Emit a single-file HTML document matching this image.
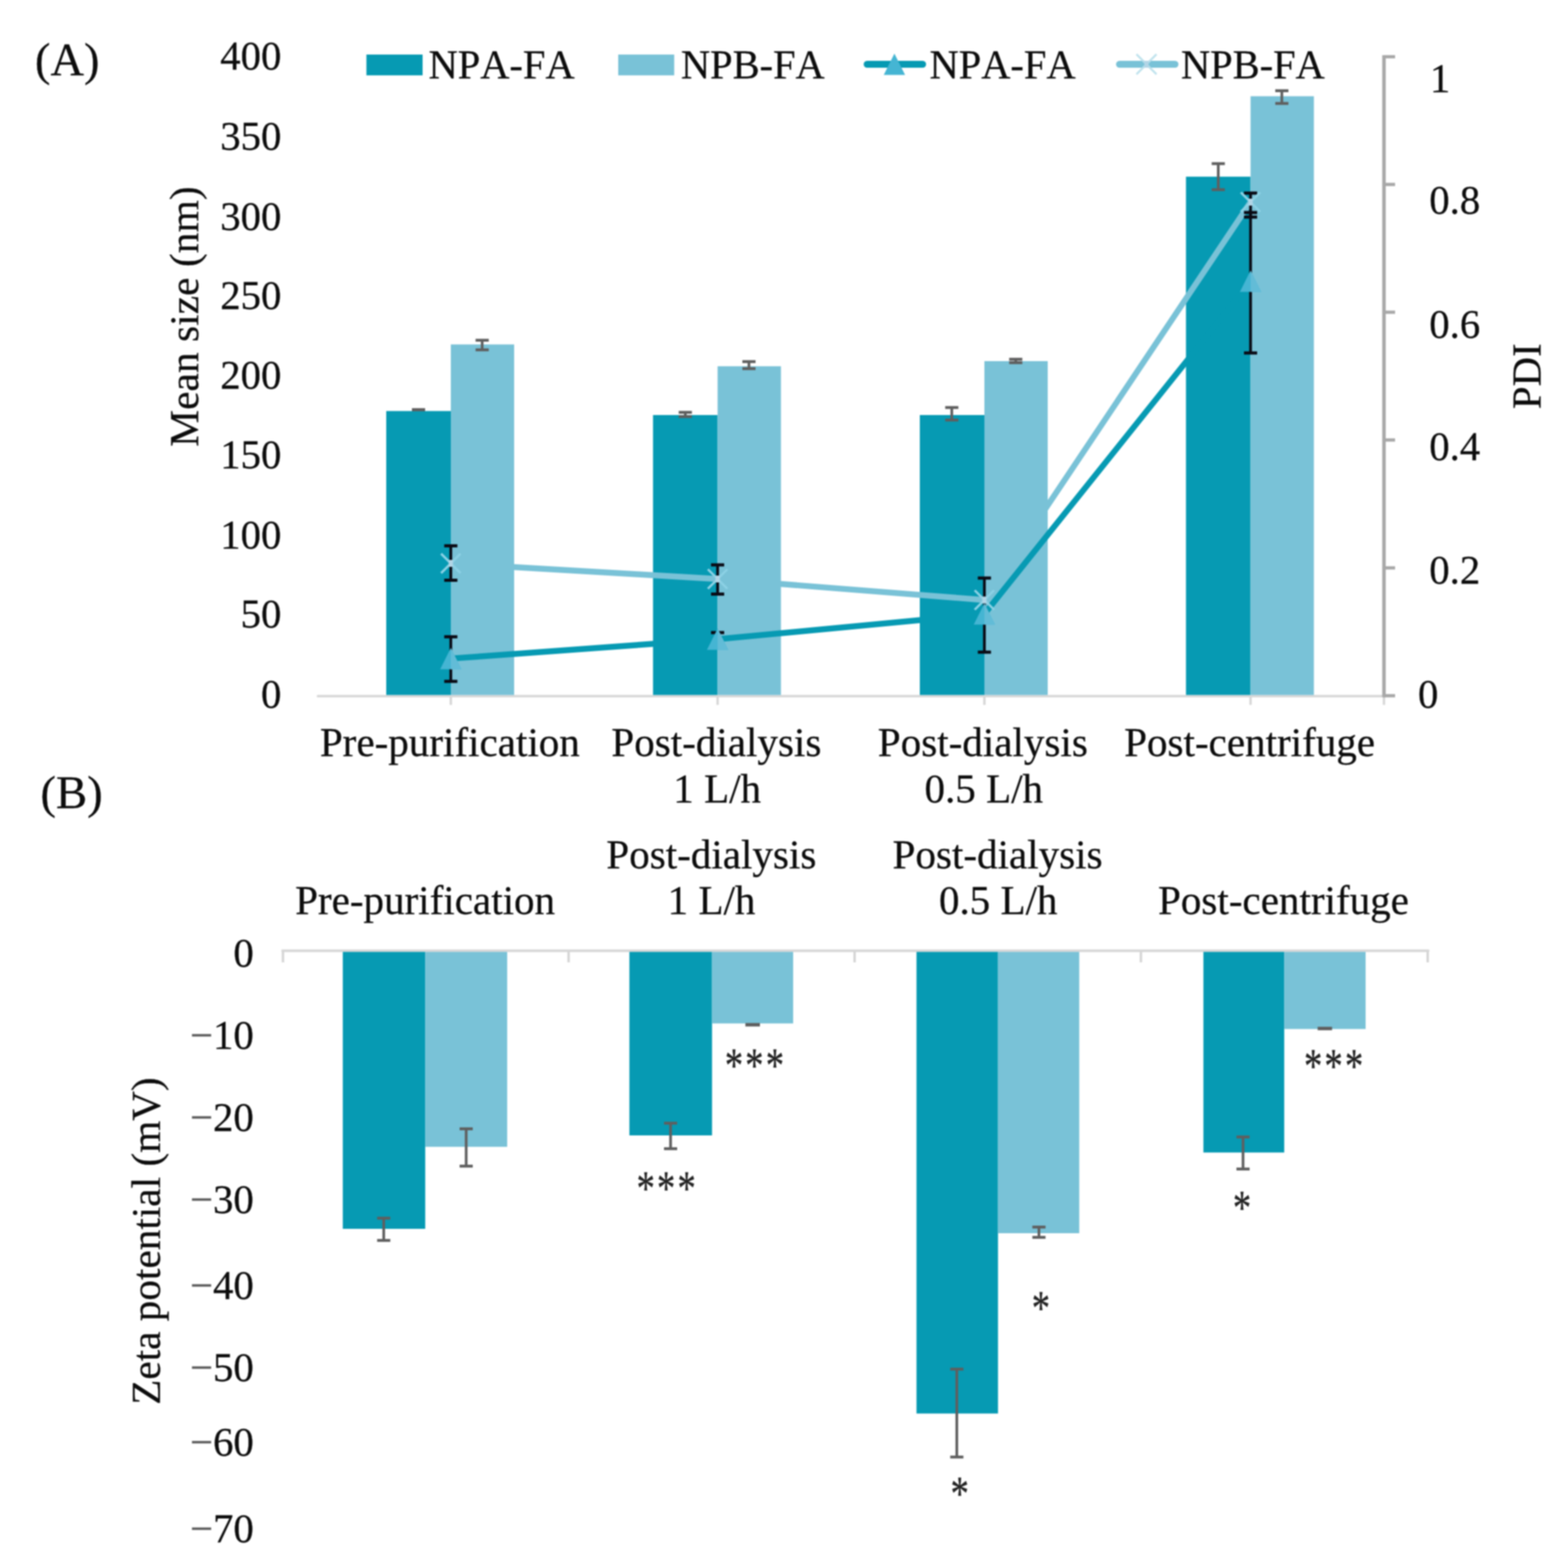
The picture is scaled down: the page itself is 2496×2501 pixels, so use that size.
<!DOCTYPE html>
<html lang="en">
<head>
<meta charset="utf-8">
<title>Figure: mean size, PDI and zeta potential of NPA-FA and NPB-FA</title>
<style>
html, body { margin: 0; padding: 0; background: #ffffff; }
body { width: 2496px; height: 2501px; overflow: hidden; }
svg { display: block; font-family: "Liberation Serif", "DejaVu Serif", serif; }
svg text { stroke-width: 0.4px; paint-order: stroke fill; font-kerning: none; font-variant-ligatures: none; font-feature-settings: "kern" 0, "liga" 0; }
</style>
</head>
<body>
<svg width="2496" height="2501" viewBox="0 0 2496 2501" role="img" aria-label="(A) Mean size and PDI, (B) zeta potential of NPA-FA and NPB-FA before and after purification">
<defs>
<filter id="soft" x="0" y="0" width="2496" height="2501" filterUnits="userSpaceOnUse" color-interpolation-filters="sRGB">
<feGaussianBlur stdDeviation="1.0"/>
</filter>
</defs>
<rect width="2496" height="2501" fill="#ffffff"/>
<g filter="url(#soft)">
<rect x="-20" y="-20" width="2536" height="2541" fill="#ffffff"/>
<line x1="505.5" y1="1110.3" x2="2207.0" y2="1110.3" stroke="#d6d6d6" stroke-width="3.8" stroke-linecap="butt"/>
<line x1="719.0" y1="1110.0" x2="719.0" y2="1124.3" stroke="#d6d6d6" stroke-width="3.8" stroke-linecap="butt"/>
<line x1="1144.5" y1="1110.0" x2="1144.5" y2="1124.3" stroke="#d6d6d6" stroke-width="3.8" stroke-linecap="butt"/>
<line x1="1570.0" y1="1110.0" x2="1570.0" y2="1124.3" stroke="#d6d6d6" stroke-width="3.8" stroke-linecap="butt"/>
<line x1="1994.5" y1="1110.0" x2="1994.5" y2="1124.3" stroke="#d6d6d6" stroke-width="3.8" stroke-linecap="butt"/>
<line x1="2207.3" y1="1110.0" x2="2207.3" y2="1124.3" stroke="#d6d6d6" stroke-width="3.8" stroke-linecap="butt"/>
<rect x="616.0" y="655.6" width="103.0" height="452.9" fill="#069ab3"/>
<rect x="719.0" y="549.4" width="101.0" height="559.1" fill="#79c2d7"/>
<rect x="1041.5" y="662.0" width="103.0" height="446.5" fill="#069ab3"/>
<rect x="1144.5" y="584.2" width="101.0" height="524.3" fill="#79c2d7"/>
<rect x="1467.0" y="662.0" width="103.0" height="446.5" fill="#069ab3"/>
<rect x="1570.0" y="576.0" width="101.0" height="532.5" fill="#79c2d7"/>
<rect x="1891.5" y="281.8" width="103.0" height="826.7" fill="#069ab3"/>
<rect x="1994.5" y="153.5" width="101.0" height="955.0" fill="#79c2d7"/>
<line x1="657.0" y1="653.5" x2="678.0" y2="653.5" stroke="#5f5f5f" stroke-width="4.6" stroke-linecap="butt"/>
<line x1="657.0" y1="653.5" x2="678.0" y2="653.5" stroke="#5f5f5f" stroke-width="4.6" stroke-linecap="butt"/>
<line x1="1093.0" y1="657.7" x2="1093.0" y2="664.5" stroke="#5f5f5f" stroke-width="4.3" stroke-linecap="butt"/>
<line x1="1082.5" y1="657.7" x2="1103.5" y2="657.7" stroke="#5f5f5f" stroke-width="4.6" stroke-linecap="butt"/>
<line x1="1082.5" y1="664.5" x2="1103.5" y2="664.5" stroke="#5f5f5f" stroke-width="4.6" stroke-linecap="butt"/>
<line x1="1518.0" y1="650.0" x2="1518.0" y2="670.0" stroke="#5f5f5f" stroke-width="4.3" stroke-linecap="butt"/>
<line x1="1507.5" y1="650.0" x2="1528.5" y2="650.0" stroke="#5f5f5f" stroke-width="4.6" stroke-linecap="butt"/>
<line x1="1507.5" y1="670.0" x2="1528.5" y2="670.0" stroke="#5f5f5f" stroke-width="4.6" stroke-linecap="butt"/>
<line x1="1943.0" y1="261.0" x2="1943.0" y2="302.5" stroke="#5f5f5f" stroke-width="4.3" stroke-linecap="butt"/>
<line x1="1932.5" y1="261.0" x2="1953.5" y2="261.0" stroke="#5f5f5f" stroke-width="4.6" stroke-linecap="butt"/>
<line x1="1932.5" y1="302.5" x2="1953.5" y2="302.5" stroke="#5f5f5f" stroke-width="4.6" stroke-linecap="butt"/>
<line x1="769.0" y1="542.7" x2="769.0" y2="558.0" stroke="#5f5f5f" stroke-width="4.3" stroke-linecap="butt"/>
<line x1="758.5" y1="542.7" x2="779.5" y2="542.7" stroke="#5f5f5f" stroke-width="4.6" stroke-linecap="butt"/>
<line x1="758.5" y1="558.0" x2="779.5" y2="558.0" stroke="#5f5f5f" stroke-width="4.6" stroke-linecap="butt"/>
<line x1="1194.5" y1="576.8" x2="1194.5" y2="588.0" stroke="#5f5f5f" stroke-width="4.3" stroke-linecap="butt"/>
<line x1="1184.0" y1="576.8" x2="1205.0" y2="576.8" stroke="#5f5f5f" stroke-width="4.6" stroke-linecap="butt"/>
<line x1="1184.0" y1="588.0" x2="1205.0" y2="588.0" stroke="#5f5f5f" stroke-width="4.6" stroke-linecap="butt"/>
<line x1="1620.0" y1="573.0" x2="1620.0" y2="578.5" stroke="#5f5f5f" stroke-width="4.3" stroke-linecap="butt"/>
<line x1="1609.5" y1="573.0" x2="1630.5" y2="573.0" stroke="#5f5f5f" stroke-width="4.6" stroke-linecap="butt"/>
<line x1="1609.5" y1="578.5" x2="1630.5" y2="578.5" stroke="#5f5f5f" stroke-width="4.6" stroke-linecap="butt"/>
<line x1="2044.4" y1="144.7" x2="2044.4" y2="165.0" stroke="#5f5f5f" stroke-width="4.3" stroke-linecap="butt"/>
<line x1="2033.9" y1="144.7" x2="2054.9" y2="144.7" stroke="#5f5f5f" stroke-width="4.6" stroke-linecap="butt"/>
<line x1="2033.9" y1="165.0" x2="2054.9" y2="165.0" stroke="#5f5f5f" stroke-width="4.6" stroke-linecap="butt"/>
<polyline points="719.0,1050.4 1144.5,1019.5 1570.0,979.3 1994.5,448.5" fill="none" stroke="#069ab3" stroke-width="9.4" stroke-linejoin="round"/>
<polyline points="719.0,898.6 1144.5,923.5 1570.0,957.0 1994.5,322.4" fill="none" stroke="#79c2d7" stroke-width="9.4" stroke-linejoin="round"/>
<line x1="719.0" y1="870.6" x2="719.0" y2="925.5" stroke="#0a0a14" stroke-width="4.4" stroke-linecap="butt"/>
<line x1="708.5" y1="870.6" x2="729.5" y2="870.6" stroke="#0a0a14" stroke-width="5" stroke-linecap="butt"/>
<line x1="708.5" y1="925.5" x2="729.5" y2="925.5" stroke="#0a0a14" stroke-width="5" stroke-linecap="butt"/>
<line x1="719.0" y1="1015.7" x2="719.0" y2="1086.8" stroke="#0a0a14" stroke-width="4.4" stroke-linecap="butt"/>
<line x1="708.5" y1="1015.7" x2="729.5" y2="1015.7" stroke="#0a0a14" stroke-width="5" stroke-linecap="butt"/>
<line x1="708.5" y1="1086.8" x2="729.5" y2="1086.8" stroke="#0a0a14" stroke-width="5" stroke-linecap="butt"/>
<line x1="1144.5" y1="901.0" x2="1144.5" y2="947.6" stroke="#0a0a14" stroke-width="4.4" stroke-linecap="butt"/>
<line x1="1134.0" y1="901.0" x2="1155.0" y2="901.0" stroke="#0a0a14" stroke-width="5" stroke-linecap="butt"/>
<line x1="1134.0" y1="947.6" x2="1155.0" y2="947.6" stroke="#0a0a14" stroke-width="5" stroke-linecap="butt"/>
<line x1="1144.5" y1="1009.0" x2="1144.5" y2="1033.0" stroke="#0a0a14" stroke-width="4.4" stroke-linecap="butt"/>
<line x1="1134.0" y1="1009.0" x2="1155.0" y2="1009.0" stroke="#0a0a14" stroke-width="5" stroke-linecap="butt"/>
<line x1="1134.0" y1="1033.0" x2="1155.0" y2="1033.0" stroke="#0a0a14" stroke-width="5" stroke-linecap="butt"/>
<line x1="1570.0" y1="922.0" x2="1570.0" y2="1040.2" stroke="#0a0a14" stroke-width="4.4" stroke-linecap="butt"/>
<line x1="1559.5" y1="922.0" x2="1580.5" y2="922.0" stroke="#0a0a14" stroke-width="5" stroke-linecap="butt"/>
<line x1="1559.5" y1="1040.2" x2="1580.5" y2="1040.2" stroke="#0a0a14" stroke-width="5" stroke-linecap="butt"/>
<line x1="1994.5" y1="308.0" x2="1994.5" y2="346.2" stroke="#0a0a14" stroke-width="4.4" stroke-linecap="butt"/>
<line x1="1984.0" y1="308.0" x2="2005.0" y2="308.0" stroke="#0a0a14" stroke-width="5" stroke-linecap="butt"/>
<line x1="1984.0" y1="346.2" x2="2005.0" y2="346.2" stroke="#0a0a14" stroke-width="5" stroke-linecap="butt"/>
<line x1="1994.5" y1="339.0" x2="1994.5" y2="563.0" stroke="#0a0a14" stroke-width="4.4" stroke-linecap="butt"/>
<line x1="1984.0" y1="339.0" x2="2005.0" y2="339.0" stroke="#0a0a14" stroke-width="5" stroke-linecap="butt"/>
<line x1="1984.0" y1="563.0" x2="2005.0" y2="563.0" stroke="#0a0a14" stroke-width="5" stroke-linecap="butt"/>
<polygon points="719.0,1033.4 736.0,1067.4 702.0,1067.4" fill="#45b5d3"/>
<polygon points="719.0,1033.4 736.0,1067.4 719.0,1067.4" fill="#62bcd7"/>
<polygon points="1144.5,1002.5 1161.5,1036.5 1127.5,1036.5" fill="#45b5d3"/>
<polygon points="1144.5,1002.5 1161.5,1036.5 1144.5,1036.5" fill="#62bcd7"/>
<polygon points="1570.0,962.3 1587.0,996.3 1553.0,996.3" fill="#45b5d3"/>
<polygon points="1570.0,962.3 1587.0,996.3 1570.0,996.3" fill="#62bcd7"/>
<polygon points="1994.5,431.5 2011.5,465.5 1977.5,465.5" fill="#45b5d3"/>
<polygon points="1994.5,431.5 2011.5,465.5 1994.5,465.5" fill="#62bcd7"/>
<path d="M703.5 883.1L734.5 914.1M703.5 914.1L734.5 883.1" stroke="#8cd1e5" stroke-width="3.8" stroke-opacity="1" fill="none"/>
<rect x="715.7" y="893.1" width="6.6" height="11" fill="#b2d5e6"/>
<path d="M1129.0 908.0L1160.0 939.0M1129.0 939.0L1160.0 908.0" stroke="#8cd1e5" stroke-width="3.8" stroke-opacity="1" fill="none"/>
<rect x="1141.2" y="918.0" width="6.6" height="11" fill="#b2d5e6"/>
<path d="M1554.5 941.5L1585.5 972.5M1554.5 972.5L1585.5 941.5" stroke="#8cd1e5" stroke-width="3.8" stroke-opacity="1" fill="none"/>
<rect x="1566.7" y="951.5" width="6.6" height="11" fill="#b2d5e6"/>
<path d="M1979.0 306.9L2010.0 337.9M1979.0 337.9L2010.0 306.9" stroke="#8cd1e5" stroke-width="3.8" stroke-opacity="1" fill="none"/>
<rect x="1991.2" y="316.9" width="6.6" height="11" fill="#b2d5e6"/>
<line x1="2207.3" y1="88.0" x2="2207.3" y2="1112.3" stroke="#a8a8a8" stroke-width="5.6" stroke-linecap="butt"/>
<line x1="2207.3" y1="90.5" x2="2225.0" y2="90.5" stroke="#a8a8a8" stroke-width="5.2" stroke-linecap="butt"/>
<line x1="2207.3" y1="294.2" x2="2225.0" y2="294.2" stroke="#a8a8a8" stroke-width="5.2" stroke-linecap="butt"/>
<line x1="2207.3" y1="498.0" x2="2225.0" y2="498.0" stroke="#a8a8a8" stroke-width="5.2" stroke-linecap="butt"/>
<line x1="2207.3" y1="701.8" x2="2225.0" y2="701.8" stroke="#a8a8a8" stroke-width="5.2" stroke-linecap="butt"/>
<line x1="2207.3" y1="905.8" x2="2225.0" y2="905.8" stroke="#a8a8a8" stroke-width="5.2" stroke-linecap="butt"/>
<line x1="2207.3" y1="1109.7" x2="2225.0" y2="1109.7" stroke="#a8a8a8" stroke-width="5.2" stroke-linecap="butt"/>
<rect x="584.4" y="87.0" width="89.6" height="33.2" fill="#069ab3"/>
<rect x="986.0" y="87.0" width="89.3" height="33.2" fill="#79c2d7"/>
<line x1="1383.0" y1="102.5" x2="1471.5" y2="102.5" stroke="#069ab3" stroke-width="11" stroke-linecap="round"/>
<polygon points="1426.5,85.5 1443.5,119.5 1409.5,119.5" fill="#45b5d3"/>
<line x1="1785.5" y1="102.5" x2="1874.0" y2="102.5" stroke="#79c2d7" stroke-width="11" stroke-linecap="round"/>
<path d="M1812.5 86.5L1844.5 118.5M1812.5 118.5L1844.5 86.5" stroke="#b9e0ec" stroke-width="3.2" stroke-opacity="0.9" fill="none"/>
<rect x="1825.2" y="97.0" width="6.6" height="11" fill="#b2d5e6"/>
<text x="683.5" y="124.5" font-size="64.5" text-anchor="start" fill="#0c0c0c" stroke="#0c0c0c">NPA-FA</text>
<text x="1086.0" y="124.5" font-size="64.5" text-anchor="start" fill="#0c0c0c" stroke="#0c0c0c">NPB-FA</text>
<text x="1482.5" y="124.5" font-size="64.5" text-anchor="start" fill="#0c0c0c" stroke="#0c0c0c">NPA-FA</text>
<text x="1883.5" y="124.5" font-size="64.5" text-anchor="start" fill="#0c0c0c" stroke="#0c0c0c">NPB-FA</text>
<text x="55.8" y="120.0" font-size="74" text-anchor="start" fill="#0c0c0c" stroke="#0c0c0c">(A)</text>
<text x="64.5" y="1288.5" font-size="74.5" text-anchor="start" fill="#0c0c0c" stroke="#0c0c0c">(B)</text>
<text x="448.8" y="110.5" font-size="65" text-anchor="end" fill="#0c0c0c" stroke="#0c0c0c">400</text>
<text x="448.8" y="238.5" font-size="65" text-anchor="end" fill="#0c0c0c" stroke="#0c0c0c">350</text>
<text x="448.8" y="366.7" font-size="65" text-anchor="end" fill="#0c0c0c" stroke="#0c0c0c">300</text>
<text x="448.8" y="493.0" font-size="65" text-anchor="end" fill="#0c0c0c" stroke="#0c0c0c">250</text>
<text x="448.8" y="619.7" font-size="65" text-anchor="end" fill="#0c0c0c" stroke="#0c0c0c">200</text>
<text x="448.8" y="746.5" font-size="65" text-anchor="end" fill="#0c0c0c" stroke="#0c0c0c">150</text>
<text x="448.8" y="875.4" font-size="65" text-anchor="end" fill="#0c0c0c" stroke="#0c0c0c">100</text>
<text x="448.8" y="1001.2" font-size="65" text-anchor="end" fill="#0c0c0c" stroke="#0c0c0c">50</text>
<text x="448.8" y="1128.8" font-size="65" text-anchor="end" fill="#0c0c0c" stroke="#0c0c0c">0</text>
<text transform="translate(316.0 505.0) rotate(-90)" font-size="66.2" text-anchor="middle" fill="#0c0c0c" stroke="#0c0c0c">Mean size (nm)</text>
<text x="2280.5" y="147.0" font-size="65" text-anchor="start" fill="#0c0c0c" stroke="#0c0c0c">1</text>
<text x="2279.5" y="341.0" font-size="65" text-anchor="start" fill="#0c0c0c" stroke="#0c0c0c">0.8</text>
<text x="2279.5" y="539.0" font-size="65" text-anchor="start" fill="#0c0c0c" stroke="#0c0c0c">0.6</text>
<text x="2279.5" y="733.5" font-size="65" text-anchor="start" fill="#0c0c0c" stroke="#0c0c0c">0.4</text>
<text x="2279.5" y="930.5" font-size="65" text-anchor="start" fill="#0c0c0c" stroke="#0c0c0c">0.2</text>
<text x="2261.5" y="1129.0" font-size="65" text-anchor="start" fill="#0c0c0c" stroke="#0c0c0c">0</text>
<text transform="translate(2457.0 600.0) rotate(-90)" font-size="65" text-anchor="middle" fill="#0c0c0c" stroke="#0c0c0c">PDI</text>
<text x="717.5" y="1206.0" font-size="65.5" text-anchor="middle" fill="#0c0c0c" stroke="#0c0c0c">Pre-purification</text>
<text x="1142.5" y="1206.0" font-size="65.5" text-anchor="middle" fill="#0c0c0c" stroke="#0c0c0c">Post-dialysis</text>
<text x="1143.8" y="1279.5" font-size="65.5" text-anchor="middle" fill="#0c0c0c" stroke="#0c0c0c">1 L/h</text>
<text x="1567.5" y="1206.0" font-size="65.5" text-anchor="middle" fill="#0c0c0c" stroke="#0c0c0c">Post-dialysis</text>
<text x="1569.0" y="1279.5" font-size="65.5" text-anchor="middle" fill="#0c0c0c" stroke="#0c0c0c">0.5 L/h</text>
<text x="1993.0" y="1206.0" font-size="65.5" text-anchor="middle" fill="#0c0c0c" stroke="#0c0c0c">Post-centrifuge</text>
<line x1="448.8" y1="1516.5" x2="2279.5" y2="1516.5" stroke="#d6d6d6" stroke-width="3.8" stroke-linecap="butt"/>
<line x1="451.3" y1="1516.5" x2="451.3" y2="1535.0" stroke="#d6d6d6" stroke-width="4.0" stroke-linecap="butt"/>
<line x1="906.8" y1="1516.5" x2="906.8" y2="1535.0" stroke="#d6d6d6" stroke-width="4.0" stroke-linecap="butt"/>
<line x1="1363.0" y1="1516.5" x2="1363.0" y2="1535.0" stroke="#d6d6d6" stroke-width="4.0" stroke-linecap="butt"/>
<line x1="1819.6" y1="1516.5" x2="1819.6" y2="1535.0" stroke="#d6d6d6" stroke-width="4.0" stroke-linecap="butt"/>
<line x1="2277.0" y1="1516.5" x2="2277.0" y2="1535.0" stroke="#d6d6d6" stroke-width="4.0" stroke-linecap="butt"/>
<rect x="546.7" y="1518.3" width="131.5" height="441.7" fill="#069ab3"/>
<rect x="1003.8" y="1518.3" width="131.8" height="292.7" fill="#069ab3"/>
<rect x="1461.7" y="1518.3" width="130.0" height="736.3" fill="#069ab3"/>
<rect x="1919.3" y="1518.3" width="128.9" height="320.0" fill="#069ab3"/>
<rect x="678.2" y="1518.3" width="130.7" height="310.9" fill="#79c2d7"/>
<rect x="1135.6" y="1518.3" width="129.4" height="114.1" fill="#79c2d7"/>
<rect x="1591.7" y="1518.3" width="129.6" height="448.7" fill="#79c2d7"/>
<rect x="2048.2" y="1518.3" width="129.8" height="123.0" fill="#79c2d7"/>
<line x1="612.0" y1="1943.0" x2="612.0" y2="1978.5" stroke="#5f5f5f" stroke-width="4.3" stroke-linecap="butt"/>
<line x1="601.5" y1="1943.0" x2="622.5" y2="1943.0" stroke="#5f5f5f" stroke-width="4.6" stroke-linecap="butt"/>
<line x1="601.5" y1="1978.5" x2="622.5" y2="1978.5" stroke="#5f5f5f" stroke-width="4.6" stroke-linecap="butt"/>
<line x1="743.5" y1="1800.5" x2="743.5" y2="1860.0" stroke="#5f5f5f" stroke-width="4.3" stroke-linecap="butt"/>
<line x1="733.0" y1="1800.5" x2="754.0" y2="1800.5" stroke="#5f5f5f" stroke-width="4.6" stroke-linecap="butt"/>
<line x1="733.0" y1="1860.0" x2="754.0" y2="1860.0" stroke="#5f5f5f" stroke-width="4.6" stroke-linecap="butt"/>
<line x1="1069.5" y1="1791.5" x2="1069.5" y2="1832.2" stroke="#5f5f5f" stroke-width="4.3" stroke-linecap="butt"/>
<line x1="1059.0" y1="1791.5" x2="1080.0" y2="1791.5" stroke="#5f5f5f" stroke-width="4.6" stroke-linecap="butt"/>
<line x1="1059.0" y1="1832.2" x2="1080.0" y2="1832.2" stroke="#5f5f5f" stroke-width="4.6" stroke-linecap="butt"/>
<line x1="1526.0" y1="2183.8" x2="1526.0" y2="2324.0" stroke="#5f5f5f" stroke-width="4.3" stroke-linecap="butt"/>
<line x1="1515.5" y1="2183.8" x2="1536.5" y2="2183.8" stroke="#5f5f5f" stroke-width="4.6" stroke-linecap="butt"/>
<line x1="1515.5" y1="2324.0" x2="1536.5" y2="2324.0" stroke="#5f5f5f" stroke-width="4.6" stroke-linecap="butt"/>
<line x1="1657.0" y1="1957.2" x2="1657.0" y2="1973.6" stroke="#5f5f5f" stroke-width="4.3" stroke-linecap="butt"/>
<line x1="1646.5" y1="1957.2" x2="1667.5" y2="1957.2" stroke="#5f5f5f" stroke-width="4.6" stroke-linecap="butt"/>
<line x1="1646.5" y1="1973.6" x2="1667.5" y2="1973.6" stroke="#5f5f5f" stroke-width="4.6" stroke-linecap="butt"/>
<line x1="1982.5" y1="1813.5" x2="1982.5" y2="1864.6" stroke="#5f5f5f" stroke-width="4.3" stroke-linecap="butt"/>
<line x1="1972.0" y1="1813.5" x2="1993.0" y2="1813.5" stroke="#5f5f5f" stroke-width="4.6" stroke-linecap="butt"/>
<line x1="1972.0" y1="1864.6" x2="1993.0" y2="1864.6" stroke="#5f5f5f" stroke-width="4.6" stroke-linecap="butt"/>
<line x1="1188.8" y1="1634.5" x2="1212.0" y2="1634.5" stroke="#5f5f5f" stroke-width="5.5" stroke-linecap="butt"/>
<line x1="2101.5" y1="1640.5" x2="2124.5" y2="1640.5" stroke="#5f5f5f" stroke-width="5.5" stroke-linecap="butt"/>
<text x="404.8" y="1542.0" font-size="65" text-anchor="end" fill="#0c0c0c" stroke="#0c0c0c">0</text>
<text x="404.8" y="1673.0" font-size="65" text-anchor="end" fill="#0c0c0c" stroke="#0c0c0c"><tspan fill="#5a5a5a" stroke="#5a5a5a">−</tspan>10</text>
<text x="404.8" y="1804.0" font-size="65" text-anchor="end" fill="#0c0c0c" stroke="#0c0c0c"><tspan fill="#5a5a5a" stroke="#5a5a5a">−</tspan>20</text>
<text x="404.8" y="1935.4" font-size="65" text-anchor="end" fill="#0c0c0c" stroke="#0c0c0c"><tspan fill="#5a5a5a" stroke="#5a5a5a">−</tspan>30</text>
<text x="404.8" y="2072.0" font-size="65" text-anchor="end" fill="#0c0c0c" stroke="#0c0c0c"><tspan fill="#5a5a5a" stroke="#5a5a5a">−</tspan>40</text>
<text x="404.8" y="2203.0" font-size="65" text-anchor="end" fill="#0c0c0c" stroke="#0c0c0c"><tspan fill="#5a5a5a" stroke="#5a5a5a">−</tspan>50</text>
<text x="404.8" y="2322.2" font-size="65" text-anchor="end" fill="#0c0c0c" stroke="#0c0c0c"><tspan fill="#5a5a5a" stroke="#5a5a5a">−</tspan>60</text>
<text x="404.8" y="2459.6" font-size="65" text-anchor="end" fill="#0c0c0c" stroke="#0c0c0c"><tspan fill="#5a5a5a" stroke="#5a5a5a">−</tspan>70</text>
<text transform="translate(254.5 1979.5) rotate(-90)" font-size="65.8" text-anchor="middle" fill="#0c0c0c" stroke="#0c0c0c">Zeta potential (mV)</text>
<text x="678.0" y="1458.2" font-size="65.5" text-anchor="middle" fill="#0c0c0c" stroke="#0c0c0c">Pre-purification</text>
<text x="1134.5" y="1385.0" font-size="65.5" text-anchor="middle" fill="#0c0c0c" stroke="#0c0c0c">Post-dialysis</text>
<text x="1134.8" y="1458.2" font-size="65.5" text-anchor="middle" fill="#0c0c0c" stroke="#0c0c0c">1 L/h</text>
<text x="1591.0" y="1385.0" font-size="65.5" text-anchor="middle" fill="#0c0c0c" stroke="#0c0c0c">Post-dialysis</text>
<text x="1592.0" y="1458.2" font-size="65.5" text-anchor="middle" fill="#0c0c0c" stroke="#0c0c0c">0.5 L/h</text>
<text x="2047.0" y="1458.2" font-size="65.5" text-anchor="middle" fill="#0c0c0c" stroke="#0c0c0c">Post-centrifuge</text>
<text transform="translate(1156.0 1725.1) scale(0.9 1.21)" font-size="65.0" letter-spacing="3.72" fill="#222222" stroke="#222222">***</text>
<text transform="translate(1015.2 1921.4) scale(0.9 1.21)" font-size="65.0" letter-spacing="3.72" fill="#222222" stroke="#222222">***</text>
<text transform="translate(1645.6 2112.1) scale(0.9 1.21)" font-size="65.0" letter-spacing="3.72" fill="#222222" stroke="#222222">*</text>
<text transform="translate(1516.0 2408.1) scale(0.9 1.21)" font-size="65.0" letter-spacing="3.72" fill="#222222" stroke="#222222">*</text>
<text transform="translate(1966.3 1951.9) scale(0.9 1.21)" font-size="65.0" letter-spacing="3.72" fill="#222222" stroke="#222222">*</text>
<text transform="translate(2079.7 1726.4) scale(0.9 1.21)" font-size="65.0" letter-spacing="3.72" fill="#222222" stroke="#222222">***</text>
</g>
</svg>
</body>
</html>
